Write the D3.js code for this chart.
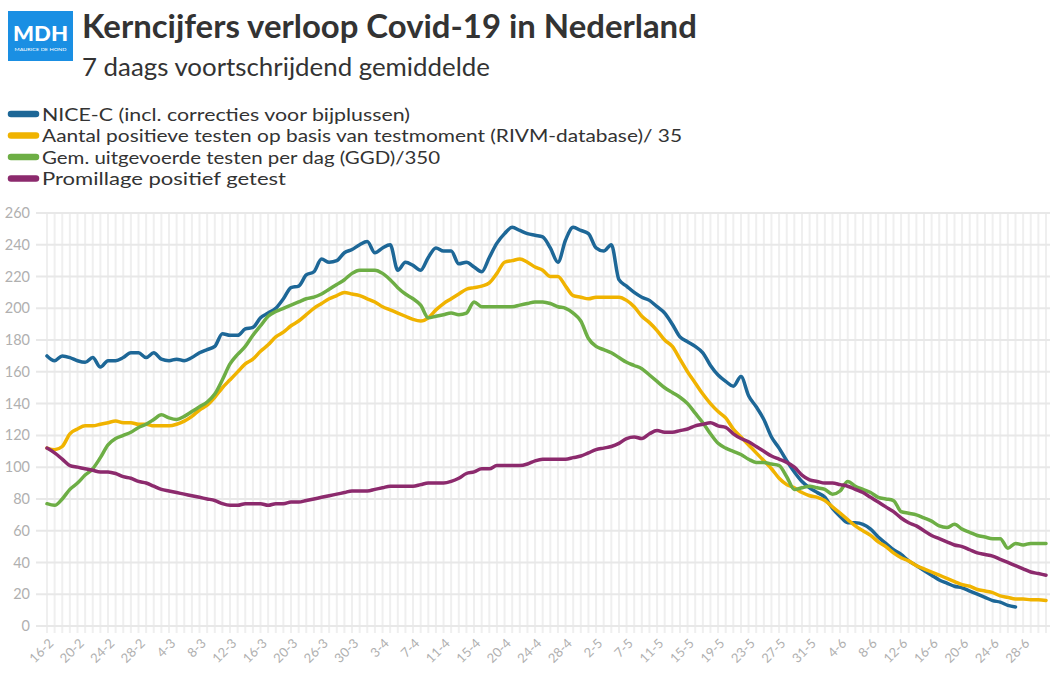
<!DOCTYPE html>
<html><head><meta charset="utf-8">
<script src="https://cdn.jsdelivr.net/npm/d3@7"></script>
<style>body{margin:0;background:#fff;} svg{display:block;}</style>
</head><body>
<svg id="chart" width="1056" height="679"></svg>
<script>
// ---- DATA ----
const categories = [
"16-2","17-2","18-2","19-2","20-2","21-2","22-2","23-2","24-2","25-2","26-2","27-2","28-2","29-2",
"2-3","3-3","4-3","5-3","6-3","7-3","8-3","9-3","10-3","11-3","12-3","13-3","14-3","15-3","16-3","17-3","18-3","19-3","20-3","21-3",
"24-3","25-3","26-3","27-3","28-3","29-3","30-3","31-3",
"1-4","2-4","3-4","4-4","5-4","6-4","7-4","8-4","9-4","10-4","11-4","12-4","13-4","14-4","15-4","16-4","17-4","18-4",
"20-4","21-4","22-4","23-4","24-4","25-4","26-4","27-4","28-4","29-4","30-4",
"1-5","2-5","3-5","4-5",
"6-5","7-5","8-5","9-5","10-5","11-5","12-5","13-5","14-5","15-5","16-5","17-5","18-5","19-5","20-5","21-5","22-5","23-5","24-5","25-5","26-5","27-5","28-5","29-5","30-5","31-5",
"1-6","2-6","3-6","4-6","5-6","6-6","7-6","8-6","9-6","10-6","11-6","12-6","13-6","14-6","15-6","16-6","17-6","18-6","19-6","20-6","21-6","22-6","23-6","24-6","25-6","26-6","27-6","28-6","29-6","30-6",
"1-7"];
const tickLabels = ["16-2","20-2","24-2","28-2","4-3","8-3","12-3","16-3","20-3","26-3","30-3","3-4","7-4","11-4","15-4","20-4","24-4","28-4","2-5","7-5","11-5","15-5","19-5","23-5","27-5","31-5","4-6","8-6","12-6","16-6","20-6","24-6","28-6"];
const yTicks = [0,20,40,60,80,100,120,140,160,180,200,220,240,260];

const niceC = [
170,167,170,169,167,166,169,163,167,167,
169,172,172,169,172,168,167,168,167,169,
172,174,176,184,183,183,187,188,194,197,
200,206,213,214,221,223,231,229,230,235,
237,240,242,235,238,240,224,229,227,224,
232,238,236,236,228,229,226,223,232,241,
247,251,249,247,246,245,238,229,243,251,
249,247,238,236,240,218,214,210,207,205,
201,197,190,182,179,176,172,164,158,154,
151,157,145,138,130,119,112,104,97,91,
87,84,81,74,69,65,65,64,61,56,
52,48,45,41,38,35,32,29,27,25,
24,22,20,18,16,15,13,12];

const positief = [
112,111,113,121,124,126,126,127,128,129,
128,128,127,127,126,126,126,127,129,132,
136,139,144,150,155,160,165,168,173,177,
182,185,189,192,196,200,203,206,208,210,
209,208,206,204,201,199,197,195,193,192,
194,199,203,206,209,212,213,214,216,222,
229,230,231,229,226,224,220,220,214,208,
207,206,207,207,207,207,205,201,195,191,
186,180,176,168,160,153,146,140,135,131,
124,119,114,109,104,99,93,89,87,84,
82,81,79,75,71,67,63,60,57,53,
50,46,43,41,38,36,34,32,30,28,
26,25,23,22,21,19,18,17,17,16.5,
16.5,16];

const ggd = [
77,76,80,86,90,95,99,106,114,118,
120,122,125,127,130,133,131,130,132,135,
138,141,146,155,165,171,176,183,189,195,
198,200,202,204,206,207,209,212,215,218,
222,224,224,224,222,218,213,209,206,202,
194,195,196,197,196,197,204,201,201,201,
201,201,202,203,204,204,203,201,200,197,
192,181,176,174,172,169,166,164,162,158,
154,150,147,144,140,134,128,121,115,112,
110,108,105,103,103,102,101,94,86,87,
88,87,86,83,85,91,88,86,84,81,
80,79,72,71,70,68,66,63,62,64,
61,59,57,56,55,55,49,52,51,52,
52,52];

const promille = [
112,109,105,101,100,99,98,97,97,96,
94,93,91,90,88,86,85,84,83,82,
81,80,79,77,76,76,77,77,77,76,
77,77,78,78,79,80,81,82,83,84,
85,85,85,86,87,88,88,88,88,89,
90,90,90,91,93,96,97,99,99,101,
101,101,101,102,104,105,105,105,105,106,
107,109,111,112,113,115,118,119,118,121,
123,122,122,123,124,126,127,128,126,125,
121,118,116,113,110,107,105,103,100,95,
92,91,90,90,89,88,86,84,81,78,
75,72,68,65,63,60,57,55,53,51,
50,48,46,45,44,42,40,38,36,34,
33,32];

const seriesNames = ["NICE-C (incl. correcties voor bijplussen)",
  "Aantal positieve testen op basis van testmoment (RIVM-database)/ 35",
  "Gem. uitgevoerde testen per dag (GGD)/350",
  "Promillage positief getest"];
const seriesData = [niceC, positief, ggd, promille];
const seriesColors = ["#1d6797","#f0b300","#6dae45","#8c2a6d"];

// ---- LAYOUT ----
const svg = d3.select("#chart");
const FONT = "Lato, 'Open Sans', sans-serif";
const plotLeft = 36, plotRight = 1050;
const x = d3.scalePoint().domain(categories).range([47, 1046]);
const y = d3.scaleLinear().domain([0, 260]).range([626, 213]);

function fit(sel, w){
  const fs = parseFloat(sel.attr("font-size"));
  const l = sel.node().getComputedTextLength();
  sel.attr("font-size", (fs * w / l).toFixed(2));
}

// Logo
const logo = svg.append("g");
logo.append("rect").attr("x",8).attr("y",11).attr("width",65).attr("height",50).attr("fill","#1a8fe3");
logo.append("text").attr("x",40.5).attr("y",41).attr("text-anchor","middle")
  .attr("font-family","Lato, sans-serif").attr("font-weight",900).attr("font-size",20).attr("fill","#fff")
  .attr("textLength",55).attr("lengthAdjust","spacingAndGlyphs").text("MDH");
logo.append("text").attr("x",40.5).attr("y",51).attr("text-anchor","middle")
  .attr("font-family","Lato, sans-serif").attr("font-size",4.5).attr("fill","#fff")
  .attr("textLength",52).attr("lengthAdjust","spacingAndGlyphs").text("MAURICE DE HOND");

// Title
const title = svg.append("text").attr("x",82).attr("y",38).attr("font-family",FONT).attr("font-weight",700)
  .attr("font-size",30).attr("fill","#333").text("Kerncijfers verloop Covid-19 in Nederland");
fit(title, 615);
const sub = svg.append("text").attr("x",82).attr("y",76).attr("font-family",FONT).attr("font-weight",400)
  .attr("font-size",22).attr("fill","#333").text("7 daags voortschrijdend gemiddelde");
fit(sub, 408);

// Legend
const legendY = [114, 135.5, 157, 178.5];
const legendW = [368, 640, 398, 244];
seriesNames.forEach((n,i)=>{
  svg.append("line").attr("x1",11).attr("x2",36).attr("y1",legendY[i]).attr("y2",legendY[i])
    .attr("stroke",seriesColors[i]).attr("stroke-width",6.5).attr("stroke-linecap","round");
  svg.append("text").attr("x",42).attr("y",legendY[i]+6.5).attr("font-family",FONT)
    .attr("font-size",17.5).attr("fill","#333")
    .attr("textLength",legendW[i]).attr("lengthAdjust","spacingAndGlyphs").text(n);
});

// Grid
const g = svg.append("g");
g.selectAll("line.vg").data(categories).join("line").attr("class","vg")
  .attr("x1",d=>x(d)).attr("x2",d=>x(d)).attr("y1",y(260)).attr("y2",y(0)+7)
  .attr("stroke","#efefef").attr("stroke-width",2);
g.selectAll("line.hg").data(yTicks).join("line").attr("class","hg")
  .attr("x1",plotLeft).attr("x2",plotRight).attr("y1",d=>y(d)).attr("y2",d=>y(d))
  .attr("stroke","#e8e8e8").attr("stroke-width",2);

// Y labels
g.selectAll("text.yl").data(yTicks).join("text").attr("class","yl")
  .attr("x",30).attr("y",d=>y(d)).attr("dy","0.35em").attr("text-anchor","end")
  .attr("font-family",FONT).attr("font-size",14.5).attr("fill","#b0b0b0").text(d=>d);

// X labels
g.selectAll("text.xl").data(tickLabels).join("text").attr("class","xl")
  .attr("transform",d=>`translate(${x(d)+4},${641}) rotate(-45)`)
  .attr("dy","0.35em").attr("text-anchor","end")
  .attr("font-family",FONT).attr("font-size",13).attr("fill","#b0b0b0").text(d=>d);

// Lines
const line = d3.line().x((d,i)=>x(categories[i])).y(d=>y(d)).curve(d3.curveMonotoneX);
seriesData.forEach((s,i)=>{
  svg.append("path").datum(s).attr("d",line).attr("fill","none")
    .attr("stroke",seriesColors[i]).attr("stroke-width",3.5).attr("stroke-linejoin","round").attr("stroke-linecap","round");
});
</script>
</body></html>
